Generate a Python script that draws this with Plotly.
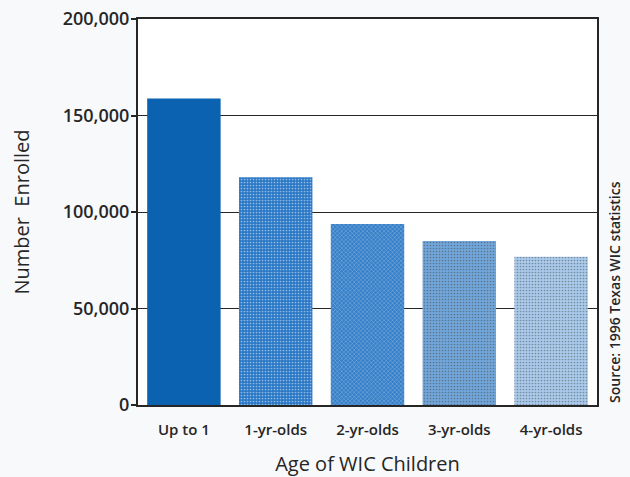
import plotly.graph_objects as go

categories = ["Up to 1", "1-yr-olds", "2-yr-olds", "3-yr-olds", "4-yr-olds"]
enrolled = [158800, 118000, 93800, 85000, 76800]
bar_colors = ["#0a62b0", "#2b78c6", "#3580c8", "#71a6db", "#a9caec"]
pattern_fg = ["#0a62b0", "#1e6dbd", "#2570bb", "#5f98d2", "#93bbe5"]
pattern_shapes = ["", ".", "x", ".", "."]
y_ticks = [0, 50000, 100000, 150000, 200000]
y_tick_text = ["0", "50,000", "100,000", "150,000", "200,000"]

FONT = "Open Sans"
INK = "#262626"

fig = go.Figure()
fig.add_trace(go.Bar(
    x=categories, y=enrolled, width=0.8,
    marker=dict(color=bar_colors, line=dict(width=0),
                pattern=dict(shape=pattern_shapes, fgcolor=pattern_fg, bgcolor=bar_colors,
                             size=3, solidity=0.25, fillmode="overlay")),
))

fig.update_layout(
    width=630, height=477,
    margin=dict(l=138, r=33, t=19, b=72, autoexpand=False),
    paper_bgcolor="#f8f9fb", plot_bgcolor="#ffffff",
    showlegend=False,
    font=dict(family=FONT, color=INK),
)
fig.update_xaxes(
    automargin=False,
    showline=True, linecolor=INK, linewidth=2, mirror=True,
    ticks="", ticklabelstandoff=10,
    tickfont=dict(size=15, family=FONT, color=INK, weight=600),
    title=dict(text="Age of WIC Children", font=dict(size=20, family=FONT, color=INK), standoff=25),
)
fig.update_yaxes(
    automargin=False,
    range=[0, 200000], tickvals=y_ticks, ticktext=y_tick_text,
    showline=True, linecolor=INK, linewidth=2, mirror=True,
    ticks="outside", ticklen=5, tickcolor=INK, tickwidth=1.5,
    ticklabelstandoff=-2,
    showgrid=True, gridcolor=INK, gridwidth=1.3,
    zeroline=False,
    tickfont=dict(size=18, family=FONT, color=INK, weight=600),
    title=dict(text="Number  Enrolled", font=dict(size=20, family=FONT, color=INK), standoff=28),
)
fig.add_annotation(
    text="Source: 1996 Texas WIC statistics", textangle=-90,
    xref="paper", yref="paper", x=1.0, y=0.0, xshift=17,
    xanchor="center", yanchor="bottom", showarrow=False,
    font=dict(size=14, family=FONT, color=INK, weight=600),
)

fig.write_html("out.html")
